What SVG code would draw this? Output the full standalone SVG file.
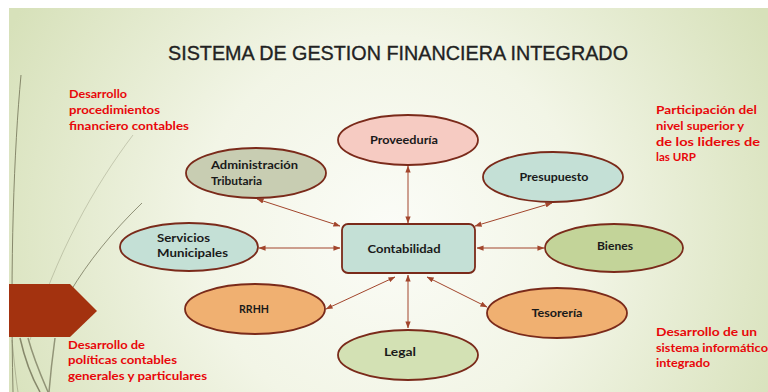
<svg xmlns="http://www.w3.org/2000/svg" width="768" height="392" viewBox="0 0 768 392">
<defs>
<radialGradient id="bg" cx="390" cy="230" r="430" gradientUnits="userSpaceOnUse">
<stop offset="0" stop-color="#fbfcf7"/>
<stop offset="0.45" stop-color="#f2f5e6"/>
<stop offset="1" stop-color="#d7e1ba"/>
</radialGradient>
<marker id="ah" viewBox="0 0 8 6" refX="7.5" refY="3" markerWidth="7" markerHeight="5.5" markerUnits="userSpaceOnUse" orient="auto-start-reverse">
<path d="M0,0 L8,3 L0,6 z" fill="#a2452c"/>
</marker>
<style>
.node ellipse,.node rect{stroke:#7a2a1a;stroke-width:1.8}
.lbl{font-family:"Lato","Open Sans","DejaVu Sans",sans-serif;font-weight:bold;font-size:12px;fill:#1a1a1a}
.red{font-family:"Lato","Open Sans","DejaVu Sans",sans-serif;font-weight:bold;font-size:12px;fill:#e8070a}
.conn line{stroke:#a2452c;stroke-width:1;marker-start:url(#ah);marker-end:url(#ah)}
.grass{fill:none;stroke:#707055}
</style>
</defs>
<rect x="0" y="0" width="768" height="392" fill="#ffffff"/>
<rect x="9" y="8" width="759" height="384" fill="url(#bg)"/>
<g id="decoration">
<path class="grass" d="M21,75 C14,150 10,260 13,392" stroke-width="1" opacity="0.8"/>
<path class="grass" d="M133,135 C95,185 55,255 30,340" stroke-width="1" opacity="0.3"/>
<path class="grass" d="M142,203 C112,232 88,262 70,292" stroke-width="1" opacity="0.75"/>
<path class="grass" d="M20,338 C25,360 32,378 40,392" stroke-width="1.5" opacity="0.8"/>
<path class="grass" d="M28,338 C34,360 42,378 48,392" stroke-width="1.5" opacity="0.7"/>
<path class="grass" d="M55,338 C52,360 50,380 49,392" stroke-width="1.5" opacity="0.7"/>
<path class="grass" d="M12,340 C14,360 16,380 18,392" stroke-width="1" opacity="0.4"/>
<polygon points="9,284 70,284 97,311 70,337 9,337" fill="#a3320f"/>
</g>
<text x="398" y="60" text-anchor="middle" font-family="'Liberation Sans','DejaVu Sans',sans-serif" font-size="21" fill="#222222" stroke="#222222" stroke-width="0.35" textLength="460" lengthAdjust="spacingAndGlyphs">SISTEMA DE GESTION FINANCIERA INTEGRADO</text>
<g id="connectors" class="conn">
<line x1="408" y1="166" x2="408" y2="223"/>
<line x1="257" y1="199" x2="340" y2="226"/>
<line x1="552" y1="203" x2="475" y2="226"/>
<line x1="259" y1="248" x2="340" y2="248"/>
<line x1="477" y1="248" x2="544" y2="248"/>
<line x1="395" y1="277" x2="326" y2="309"/>
<line x1="408" y1="275" x2="408" y2="328"/>
<line x1="427" y1="277" x2="487" y2="307"/>
</g>
<g id="contabilidad" class="node">
<rect x="342" y="224" width="133" height="49" rx="6" fill="#c4e0d6"/>
<text class="lbl" x="404" y="253" text-anchor="middle" textLength="73" lengthAdjust="spacingAndGlyphs">Contabilidad</text>
</g>
<g id="proveeduria" class="node">
<ellipse cx="408" cy="140" rx="70" ry="25" fill="#f6cbc2"/>
<text class="lbl" x="404" y="144" text-anchor="middle" textLength="68" lengthAdjust="spacingAndGlyphs">Proveeduría</text>
</g>
<g id="administracion" class="node">
<ellipse cx="256" cy="173" rx="70" ry="25" fill="#c8cdb2"/>
<text class="lbl" x="211" y="169" textLength="87" lengthAdjust="spacingAndGlyphs">Administración</text>
<text class="lbl" x="211" y="185" textLength="51" lengthAdjust="spacingAndGlyphs">Tributaria</text>
</g>
<g id="presupuesto" class="node">
<ellipse cx="553" cy="177" rx="70" ry="25" fill="#c4e0d6"/>
<text class="lbl" x="554" y="181" text-anchor="middle" textLength="69" lengthAdjust="spacingAndGlyphs">Presupuesto</text>
</g>
<g id="servicios" class="node">
<ellipse cx="189" cy="247" rx="69" ry="24" fill="#c4e0d6"/>
<text class="lbl" x="157" y="242" textLength="53" lengthAdjust="spacingAndGlyphs">Servicios</text>
<text class="lbl" x="157" y="257" textLength="71" lengthAdjust="spacingAndGlyphs">Municipales</text>
</g>
<g id="bienes" class="node">
<ellipse cx="614" cy="248" rx="69" ry="24" fill="#c3d499"/>
<text class="lbl" x="615" y="250" text-anchor="middle" textLength="36" lengthAdjust="spacingAndGlyphs">Bienes</text>
</g>
<g id="rrhh" class="node">
<ellipse cx="255" cy="309" rx="70" ry="25" fill="#f0b071"/>
<text class="lbl" x="254" y="313" text-anchor="middle" textLength="30" lengthAdjust="spacingAndGlyphs">RRHH</text>
</g>
<g id="tesoreria" class="node">
<ellipse cx="557" cy="313" rx="70" ry="25" fill="#f0b071"/>
<text class="lbl" x="557" y="317" text-anchor="middle" textLength="51" lengthAdjust="spacingAndGlyphs">Tesorería</text>
</g>
<g id="legal" class="node">
<ellipse cx="408" cy="355" rx="70" ry="25" fill="#d3e1b4"/>
<text class="lbl" x="400" y="356" text-anchor="middle" textLength="32" lengthAdjust="spacingAndGlyphs">Legal</text>
</g>
<g id="note-top-left">
<text class="red" x="69" y="98" textLength="58" lengthAdjust="spacingAndGlyphs">Desarrollo</text>
<text class="red" x="69" y="114" textLength="91" lengthAdjust="spacingAndGlyphs">procedimientos</text>
<text class="red" x="69" y="130" textLength="120" lengthAdjust="spacingAndGlyphs">financiero contables</text>
</g>
<g id="note-top-right">
<text class="red" x="656" y="114" textLength="101" lengthAdjust="spacingAndGlyphs">Participación  del</text>
<text class="red" x="656" y="130" textLength="88" lengthAdjust="spacingAndGlyphs">nivel superior y</text>
<text class="red" x="656" y="146" textLength="104" lengthAdjust="spacingAndGlyphs">de los lideres de</text>
<text class="red" x="656" y="161" textLength="40" lengthAdjust="spacingAndGlyphs">las URP</text>
</g>
<g id="note-bottom-left">
<text class="red" x="68" y="349" textLength="77" lengthAdjust="spacingAndGlyphs">Desarrollo de</text>
<text class="red" x="68" y="364" textLength="109" lengthAdjust="spacingAndGlyphs">políticas contables</text>
<text class="red" x="68" y="380" textLength="139" lengthAdjust="spacingAndGlyphs">generales y particulares</text>
</g>
<g id="note-bottom-right">
<text class="red" x="656" y="336" textLength="101" lengthAdjust="spacingAndGlyphs">Desarrollo  de un</text>
<text class="red" x="656" y="352" textLength="112" lengthAdjust="spacingAndGlyphs">sistema informático</text>
<text class="red" x="656" y="367" textLength="54" lengthAdjust="spacingAndGlyphs">integrado</text>
</g>
</svg>
